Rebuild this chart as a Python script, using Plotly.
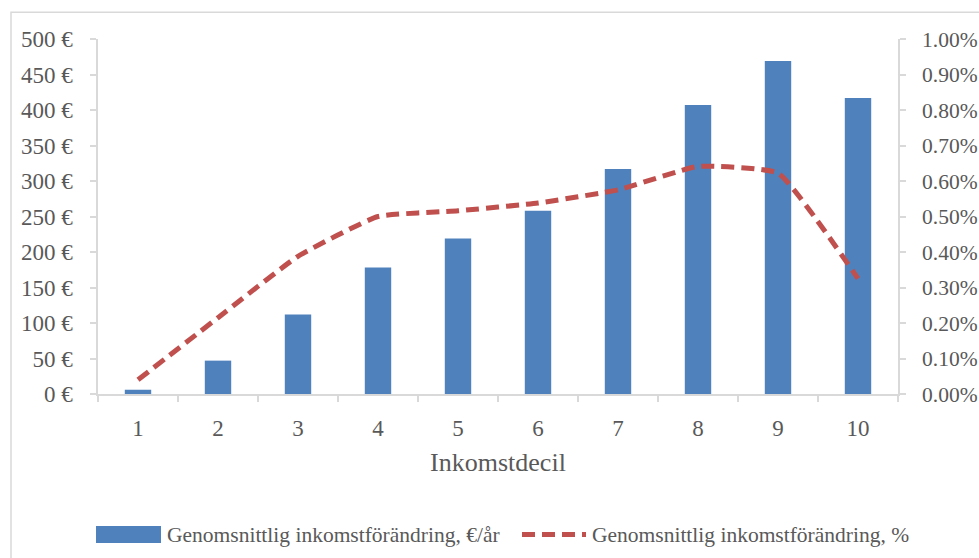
import plotly.graph_objects as go

# Income deciles and the average change in income per decile
deciles = ["1", "2", "3", "4", "5", "6", "7", "8", "9", "10"]
change_eur = [6, 47, 112, 178, 219, 258, 317, 407, 469, 417]          # €/år
change_pct = [0.04, 0.215, 0.388, 0.50, 0.516, 0.538, 0.575, 0.641, 0.622, 0.325]  # %

left_ticks = [0, 50, 100, 150, 200, 250, 300, 350, 400, 450, 500]
right_ticks = [0.0, 0.1, 0.2, 0.3, 0.4, 0.5, 0.6, 0.7, 0.8, 0.9, 1.0]

bar_name = "Genomsnittlig inkomstförändring, €/år"
line_name = "Genomsnittlig inkomstförändring, %"

BLUE = "#4F81BD"
RED = "#C0504D"
GRID = "#D9D9D9"
TEXT = "#595959"
FONT = "Liberation Serif, Times New Roman, serif"

fig = go.Figure()
fig.add_trace(go.Bar(
    x=deciles, y=change_eur, name=bar_name,
    marker=dict(color=BLUE, line=dict(width=0)),
    width=0.33, yaxis="y", showlegend=False,
))
fig.add_trace(go.Scatter(
    x=deciles, y=change_pct, name=line_name, mode="lines",
    line=dict(color=RED, width=5, dash="13px,7px", shape="spline", smoothing=0.4),
    yaxis="y2", showlegend=False,
))

axis_common = dict(
    showgrid=False, zeroline=False, showline=True, linecolor=GRID, linewidth=1.5,
    ticks="outside", ticklen=6, tickcolor=GRID, tickwidth=1.5, automargin=False,
    tickfont=dict(family=FONT, size=23, color=TEXT),
)

fig.update_layout(
    width=979, height=558,
    margin=dict(l=98, r=81, t=39, b=164),
    paper_bgcolor="white", plot_bgcolor="white",
    font=dict(family=FONT, color=TEXT),
    xaxis=dict(
        type="category", tickson="boundaries", ticklabelstandoff=13,
        title=dict(text="Inkomstdecil", font=dict(family=FONT, size=26, color=TEXT), standoff=12),
        **axis_common,
    ),
    yaxis=dict(
        range=[0, 500], tickvals=left_ticks,
        ticktext=[f"{v} €" for v in left_ticks], ticklabelstandoff=13,
        **axis_common,
    ),
    yaxis2=dict(
        range=[0, 1.0], tickvals=right_ticks, overlaying="y", side="right",
        ticktext=[f"{v:.2f}%" for v in right_ticks], ticklabelstandoff=12,
        **{**axis_common, "tickfont": dict(family=FONT, size=21.5, color=TEXT)},
    ),
    bargap=0.67,
)

# Chart-area frame
fig.add_shape(type="rect", xref="paper", yref="paper",
              x0=-0.10875, x1=1.3, y0=-0.7, y1=1.0755,
              line=dict(color=GRID, width=1.5), fillcolor="rgba(0,0,0,0)", layer="below")

# Legend keys drawn below the plot
def px_x(px):
    return (px - 98) / 800

def px_y(py):
    return (394.3 - py) / 355.3

fig.add_shape(type="rect", xref="paper", yref="paper",
              x0=px_x(96), x1=px_x(161), y0=px_y(543.5), y1=px_y(526.5),
              fillcolor=BLUE, line=dict(width=0))
fig.add_shape(type="line", xref="paper", yref="paper",
              x0=px_x(522), x1=px_x(586), y0=px_y(535), y1=px_y(535),
              line=dict(color=RED, width=5, dash="13px,7px"))
fig.add_annotation(xref="paper", yref="paper", x=px_x(165), y=px_y(535),
                   text=bar_name, showarrow=False, xanchor="left", yanchor="middle",
                   font=dict(family=FONT, size=21.5, color=TEXT))
fig.add_annotation(xref="paper", yref="paper", x=px_x(590), y=px_y(535),
                   text=line_name, showarrow=False, xanchor="left", yanchor="middle",
                   font=dict(family=FONT, size=21.5, color=TEXT))

fig.write_html("out.html")
